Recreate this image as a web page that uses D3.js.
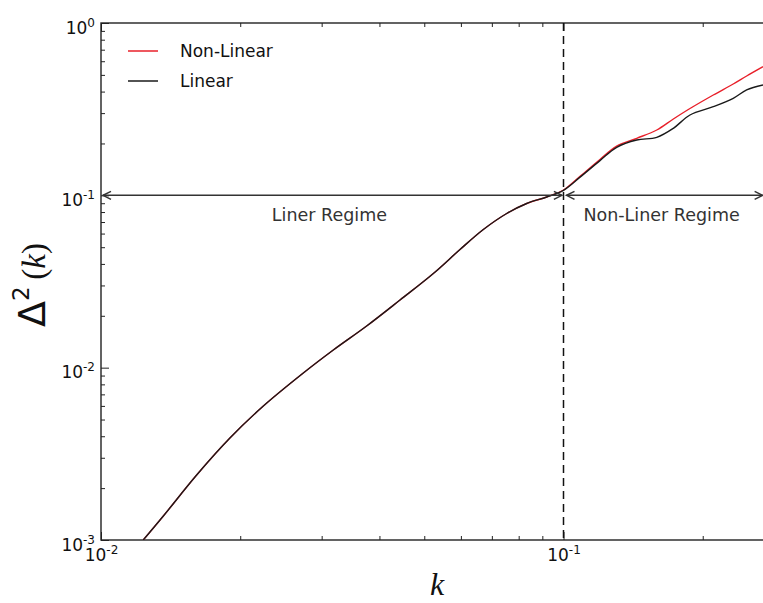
<!DOCTYPE html>
<html>
<head>
<meta charset="utf-8">
<script src="https://cdn.jsdelivr.net/npm/d3@7"></script>
<style>
  body { margin: 0; background: #fff; }
  svg { display: block; font-family: "DejaVu Sans", sans-serif; }
</style>
</head>
<body>
<svg id="chart" width="763" height="603"></svg>
<script>
// Werte
const kVals = [0.01234, 0.01364, 0.0161, 0.019, 0.02244, 0.02738, 0.03179, 0.03753, 0.04431,
  0.05231, 0.05973, 0.06709, 0.07537, 0.08325, 0.09199, 0.1, 0.1086, 0.1199, 0.1303,
  0.144, 0.1591, 0.1728, 0.1877, 0.2108, 0.2328, 0.2489, 0.27];
const linearVals = [0.001, 0.001378, 0.002383, 0.003906, 0.00599, 0.009311, 0.01266, 0.01745, 0.02469,
  0.03519, 0.04849, 0.06334, 0.07843, 0.08966, 0.09779, 0.107, 0.1275, 0.159, 0.19,
  0.2095, 0.2171, 0.2449, 0.2925, 0.3268, 0.3656, 0.4087, 0.4368];
const nonLinearVals = [0.001, 0.001378, 0.002383, 0.003906, 0.00599, 0.009311, 0.01266, 0.01745, 0.02469,
  0.03519, 0.04849, 0.06334, 0.07843, 0.08966, 0.09779, 0.1074, 0.129, 0.1615, 0.193,
  0.2143, 0.2394, 0.2773, 0.319, 0.3822, 0.4426, 0.4926, 0.5577];

const xMajor = [0.01, 0.1];
const yMajor = [0.001, 0.01, 0.1, 1];
const xExponents = ["-2", "-1"];
const yExponents = ["-3", "-2", "-1", "0"];

// Pfeile fuer die beiden Bereiche (k-Anfang, k-Ende)
const regimes = [
  { name: "Liner Regime", from: 0.0101, to: 0.0992 },
  { name: "Non-Liner Regime", from: 0.1015, to: 0.2695 }
];
const regimeLevel = 0.1;
const splitK = 0.1;

const series = [
  { name: "Non-Linear", color: "#e8202a", values: nonLinearVals },
  { name: "Linear", color: "#1a1a1a", values: linearVals }
];

const svg = d3.select("#chart");
const margin = { left: 101, top: 23 };
const plotBottom = 540;

const x = d3.scaleLog().domain([0.01, 0.3]).range([margin.left, margin.left + 462.5 * Math.log10(30)]);
const y = d3.scaleLog().domain([0.001, 1]).range([plotBottom, margin.top]);

// Kleine Ticks (2..9 pro Dekade)
const xMinor = [];
for (let e = -2; e <= -1; e++) for (let m = 2; m <= 9; m++) {
  const v = m * Math.pow(10, e);
  if (v < 0.3) xMinor.push(v);
}
const yMinor = [];
for (let e = -3; e <= -1; e++) for (let m = 2; m <= 9; m++) yMinor.push(m * Math.pow(10, e));

svg.append("defs").append("clipPath").attr("id", "clip")
  .append("rect")
  .attr("x", x.range()[0]).attr("y", margin.top)
  .attr("width", x.range()[1] - x.range()[0])
  .attr("height", plotBottom - margin.top);

// Achsen mit Ticks nach innen
function styleAxis(g) {
  g.select(".domain").remove();
  g.selectAll(".tick line").attr("stroke", "#222").attr("stroke-width", 1);
}

svg.append("g").attr("transform", `translate(0,${plotBottom})`)
  .call(d3.axisBottom(x).tickValues(xMinor).tickSize(-4).tickFormat(""))
  .call(styleAxis);
svg.append("g").attr("transform", `translate(0,${margin.top})`)
  .call(d3.axisTop(x).tickValues(xMinor).tickSize(-4).tickFormat(""))
  .call(styleAxis);
svg.append("g").attr("transform", `translate(${margin.left},0)`)
  .call(d3.axisLeft(y).tickValues(yMinor).tickSize(-4).tickFormat(""))
  .call(styleAxis);

const xAxis = svg.append("g").attr("transform", `translate(0,${plotBottom})`)
  .call(d3.axisBottom(x).tickValues(xMajor).tickSize(-8).tickFormat(""))
  .call(styleAxis);
svg.append("g").attr("transform", `translate(0,${margin.top})`)
  .call(d3.axisTop(x).tickValues(xMajor).tickSize(-8).tickFormat(""))
  .call(styleAxis);
const yAxis = svg.append("g").attr("transform", `translate(${margin.left},0)`)
  .call(d3.axisLeft(y).tickValues(yMajor).tickSize(-8).tickFormat(""))
  .call(styleAxis);

// Beschriftungen 10^n mit Hochzahl
function powerLabel(exps) {
  return function(d, i) {
    const t = d3.select(this);
    t.text("10");
    t.append("tspan").attr("dy", -7).style("font-size", "12px").text(exps[i]);
  };
}

xAxis.selectAll(".tick text")
  .attr("y", 21).attr("dy", null)
  .attr("fill", "#111")
  .style("font-family", "'DejaVu Sans', sans-serif")
  .style("font-size", "17px")
  .each(powerLabel(xExponents));

yAxis.selectAll(".tick text")
  .attr("x", -6).attr("y", 10).attr("dy", null)
  .attr("fill", "#111")
  .style("font-family", "'DejaVu Sans', sans-serif")
  .style("font-size", "17px")
  .each(powerLabel(yExponents));

// Rahmen
svg.append("rect")
  .attr("x", x.range()[0]).attr("y", margin.top)
  .attr("width", x.range()[1] - x.range()[0])
  .attr("height", plotBottom - margin.top)
  .attr("fill", "none").attr("stroke", "#222").attr("stroke-width", 1.4);

// Kurven
const line = d3.line()
  .x((d, i) => x(kVals[i]))
  .y(d => y(d))
  .curve(d3.curveCatmullRom.alpha(0.5));

const plot = svg.append("g").attr("clip-path", "url(#clip)");
plot.selectAll("path.curve")
  .data(series)
  .enter()
  .append("path")
  .attr("class", "curve")
  .attr("d", d => line(d.values))
  .attr("fill", "none")
  .attr("stroke", d => d.color)
  .attr("stroke-width", 1.4);

// Gestrichelte Trennlinie bei k = 0.1
svg.append("line")
  .attr("x1", x(splitK)).attr("x2", x(splitK))
  .attr("y1", margin.top).attr("y2", plotBottom)
  .attr("stroke", "#111").attr("stroke-width", 1.5)
  .attr("stroke-dasharray", "8,5");

// Doppelpfeile
const arrowColor = "#333";
const yr = y(regimeLevel);
regimes.forEach(function(r) {
  const x0 = x(r.from), x1 = x(r.to);
  const g = svg.append("g").attr("stroke", arrowColor).attr("stroke-width", 1.5).attr("fill", "none");
  g.append("line").attr("x1", x0).attr("x2", x1).attr("y1", yr).attr("y2", yr);
  g.append("path").attr("d", `M${x0 + 8},${yr - 4}L${x0},${yr}L${x0 + 8},${yr + 4}`);
  g.append("path").attr("d", `M${x1 - 8},${yr - 4}L${x1},${yr}L${x1 - 8},${yr + 4}`);
  svg.append("text")
    .attr("x", (x0 + x1) / 2 - 3)
    .attr("y", yr + 26)
    .attr("text-anchor", "middle")
    .attr("fill", "#333")
    .style("font-size", "17.5px")
    .text(r.name);
});

// Legende
const legend = svg.append("g").attr("transform", "translate(128,51)");
series.forEach(function(s, i) {
  legend.append("line")
    .attr("x1", 0).attr("x2", 30)
    .attr("y1", i * 30).attr("y2", i * 30)
    .attr("stroke", s.color).attr("stroke-width", 1.5);
  legend.append("text")
    .attr("x", 52).attr("y", i * 30 + 6)
    .attr("fill", "#111")
    .style("font-size", "17px")
    .text(s.name);
});

// Achsentitel
svg.append("text")
  .attr("x", 437)
  .attr("y", 595)
  .attr("text-anchor", "middle")
  .style("font-family", "'Liberation Serif', serif")
  .style("font-style", "italic")
  .style("font-size", "32px")
  .attr("fill", "#111")
  .text("k");

const yTitle = svg.append("text")
  .attr("transform", "translate(45,285) rotate(-90)")
  .attr("text-anchor", "middle")
  .attr("fill", "#111");
yTitle.append("tspan").style("font-size", "38px").text("Δ");
yTitle.append("tspan").attr("dy", -16).style("font-size", "23px").text("2");
yTitle.append("tspan").attr("dy", 16).style("font-size", "33px")
  .style("font-family", "'Liberation Serif', serif").text("\u2009(");
yTitle.append("tspan").style("font-size", "33px")
  .style("font-family", "'Liberation Serif', serif").style("font-style", "italic").text("k");
yTitle.append("tspan").style("font-size", "33px")
  .style("font-family", "'Liberation Serif', serif").text(")");
</script>
</body>
</html>
